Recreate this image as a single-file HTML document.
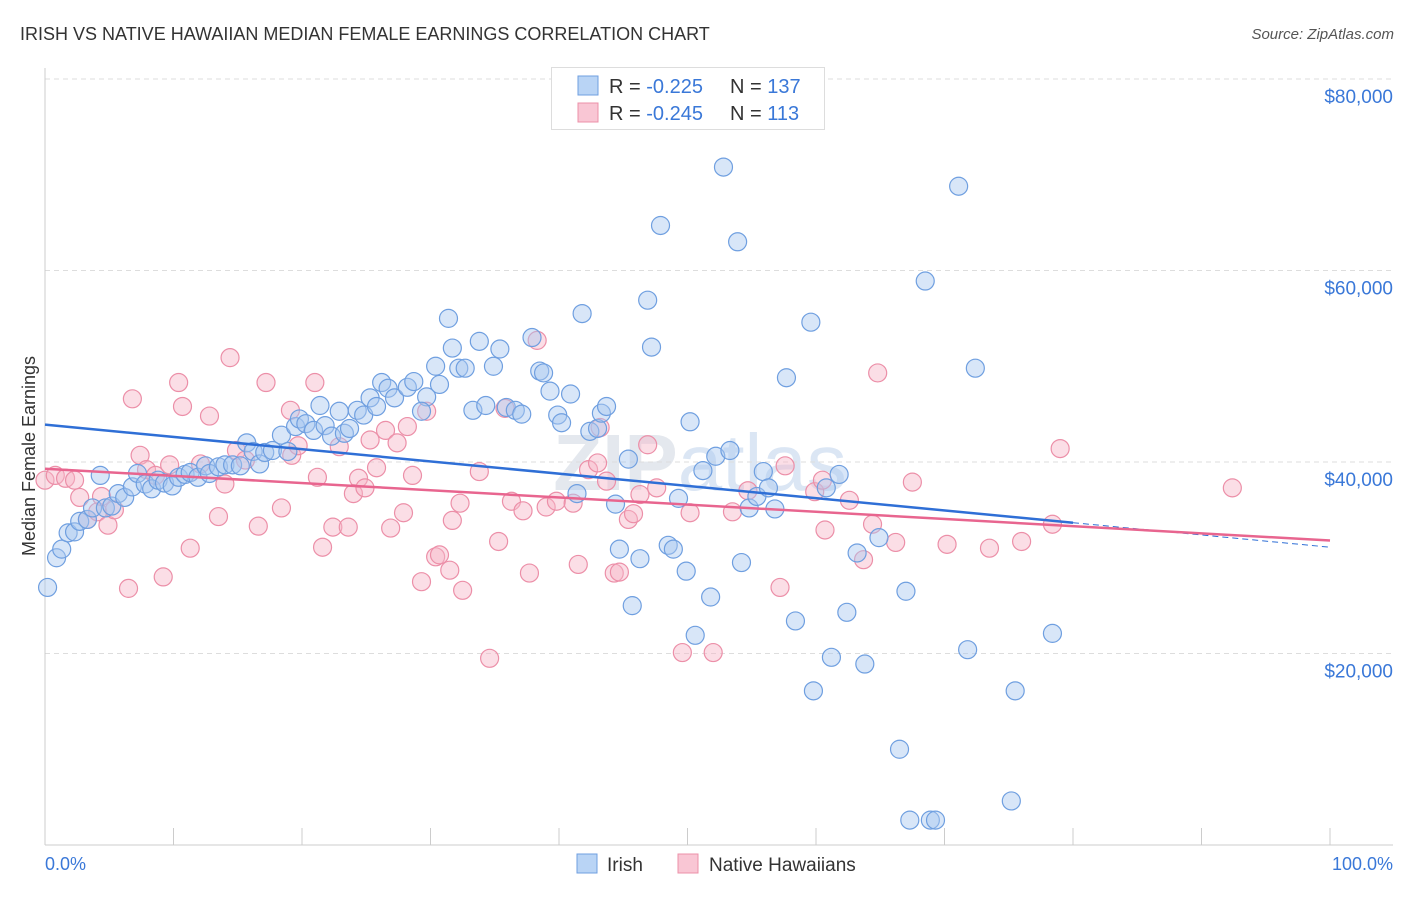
<!DOCTYPE html>
<html><head><meta charset="utf-8"><style>
body{margin:0;background:#fff;font-family:"Liberation Sans",sans-serif;}
svg text{font-family:"Liberation Sans",sans-serif;}
</style></head><body>
<svg id="chart" width="1406" height="892" xmlns="http://www.w3.org/2000/svg">
<text x="20" y="40" font-size="18" fill="#333">IRISH VS NATIVE HAWAIIAN MEDIAN FEMALE EARNINGS CORRELATION CHART</text>
<text x="1394" y="39" font-size="15" fill="#555" font-style="italic" text-anchor="end">Source: ZipAtlas.com</text>
<text x="700" y="490" font-size="80" fill="#e4e8ee" text-anchor="middle" font-weight="bold">ZIP<tspan font-weight="normal" fill="#dbe6f4">atlas</tspan></text>
<g id="grid"></g>
<g id="axes"></g>
<g id="pts"></g>
<g id="trends"></g>
<text x="35" y="456" font-size="18" fill="#333" text-anchor="middle" transform="rotate(-90 35 456)">Median Female Earnings</text>
<text x="45" y="870" font-size="18" fill="#3a78d8">0.0%</text>
<text x="1393" y="870" font-size="18" fill="#3a78d8" text-anchor="end">100.0%</text>
<g>
<rect x="551.5" y="67.5" width="273" height="62" fill="#fff" stroke="#ddd"/>
<rect x="578" y="76" width="20" height="19" fill="#b9d4f5" stroke="#6f9fe0"/>
<rect x="578" y="103" width="20" height="19" fill="#f9c6d4" stroke="#ec90a8"/>
<text x="609" y="93" font-size="20" fill="#333">R = <tspan fill="#3a78d8">-0.225</tspan></text>
<text x="730" y="93" font-size="20" fill="#333">N = <tspan fill="#3a78d8">137</tspan></text>
<text x="609" y="120" font-size="20" fill="#333">R = <tspan fill="#3a78d8">-0.245</tspan></text>
<text x="730" y="120" font-size="20" fill="#333">N = <tspan fill="#3a78d8"> 113</tspan></text>
</g>
<g>
<rect x="577" y="854" width="20" height="19" fill="#b9d4f5" stroke="#6f9fe0"/>
<text x="607" y="871" font-size="19" fill="#333">Irish</text>
<rect x="678" y="854" width="20" height="19" fill="#f9c6d4" stroke="#ec90a8"/>
<text x="709" y="871" font-size="19" fill="#333">Native Hawaiians</text>
</g>
</svg>
<script>
const yTicks=[20000,40000,60000,80000];
const yTickLabels=["$20,000","$40,000","$60,000","$80,000"];
const irishX=[0.2,0.9,1.3,1.8,2.3,2.7,3.3,3.7,4.3,4.7,5.2,5.7,6.2,6.8,7.2,7.8,8.3,8.8,9.3,9.9,10.4,10.9,11.3,11.9,12.5,12.8,13.5,14.0,14.6,15.2,15.7,16.2,16.7,17.1,17.7,18.4,18.9,19.5,19.8,20.3,20.9,21.4,21.8,22.3,22.9,23.3,23.7,24.3,24.8,25.3,25.8,26.2,26.7,27.2,28.2,28.7,29.7,29.3,30.4,30.7,31.4,31.7,32.2,32.7,33.3,33.8,34.3,34.9,35.4,35.9,36.6,37.1,37.9,38.5,38.8,39.3,39.9,40.2,40.9,41.4,41.8,42.4,43.0,43.3,43.7,44.4,44.7,45.4,45.7,46.3,46.9,47.2,47.9,48.5,48.9,49.3,49.9,50.2,50.6,51.2,51.8,52.2,52.8,53.3,53.9,54.2,54.8,55.4,55.9,56.3,56.8,57.7,58.4,59.6,59.8,60.8,61.2,61.8,62.4,63.2,63.8,64.9,66.5,67.0,67.3,68.5,68.9,69.3,71.1,71.8,72.4,75.2,75.5,78.4];
const irishY=[26.9,30.0,30.9,32.6,32.7,33.8,34.0,35.2,38.6,35.2,35.4,36.7,36.3,37.4,38.8,37.7,37.2,38.1,37.8,37.5,38.4,38.7,38.9,38.4,39.6,38.8,39.5,39.7,39.7,39.6,42.0,41.1,39.8,41.0,41.2,42.8,41.1,43.7,44.5,44.0,43.3,45.9,43.8,42.7,45.3,43.0,43.5,45.4,44.9,46.7,45.8,48.3,47.7,46.7,47.8,48.4,46.8,45.3,50.0,48.1,55.0,51.9,49.8,49.8,45.4,52.6,45.9,50.0,51.8,45.7,45.4,45.0,53.0,49.5,49.3,47.4,44.9,44.1,47.1,36.7,55.5,43.2,43.5,45.1,45.8,35.6,30.9,40.3,25.0,29.9,56.9,52.0,64.7,31.3,30.9,36.2,28.6,44.2,21.9,39.1,25.9,40.6,70.8,41.2,63.0,29.5,35.2,36.4,39.0,37.3,35.1,48.8,23.4,54.6,16.1,37.3,19.6,38.7,24.3,30.5,18.9,32.1,10.0,26.5,2.6,58.9,2.6,2.6,68.8,20.4,49.8,4.6,16.1,22.1];
const nhX=[0.0,0.8,1.6,2.3,2.7,3.3,4.1,4.4,4.9,5.4,6.5,6.8,7.4,7.9,8.6,9.2,9.7,10.4,10.7,11.3,12.1,12.8,13.5,14.0,14.4,14.9,15.6,16.6,17.2,18.4,19.1,19.2,19.7,21.0,21.2,21.6,22.4,22.9,23.6,24.0,24.4,24.9,25.3,25.8,26.5,26.9,27.4,27.9,28.2,28.6,29.3,29.7,30.4,30.7,31.5,31.7,32.3,32.5,33.8,34.6,35.3,35.8,36.3,37.2,37.7,38.3,39.0,39.8,41.1,41.5,42.3,43.0,43.2,43.7,44.3,44.7,45.4,45.8,46.3,46.9,47.6,49.6,50.2,52.0,53.5,54.7,57.2,57.6,59.9,60.5,60.7,62.6,63.7,64.4,64.8,66.2,67.5,70.2,73.5,76.0,78.4,79.0,92.4];
const nhY=[38.1,38.6,38.3,38.1,36.3,34.0,34.8,36.4,33.4,35.0,26.8,46.6,40.7,39.2,38.6,28.0,39.7,48.3,45.8,31.0,39.8,44.8,34.3,37.7,50.9,41.2,40.2,33.3,48.3,35.2,45.4,40.7,41.7,48.3,38.4,31.1,33.2,41.6,33.2,36.7,38.3,37.3,42.3,39.4,43.3,33.1,42.0,34.7,43.7,38.6,27.5,45.3,30.1,30.3,28.7,33.9,35.7,26.6,39.0,19.5,31.7,45.6,35.9,34.9,28.4,52.7,35.3,35.9,35.7,29.3,39.2,39.9,43.6,38.0,28.4,28.5,34.0,34.6,36.6,41.8,37.3,20.1,34.7,20.1,34.8,37.0,26.9,39.6,36.9,38.1,32.9,36.0,29.8,33.5,49.3,31.6,37.9,31.4,31.0,31.7,33.5,41.4,37.3];
const irishTrend=[43.9,-0.128];   // intercept ($k), slope per %
const nhTrend=[39.3,-0.075];
const NS="http://www.w3.org/2000/svg";
const X0=45,X1=1330,Y0=845,PX20K=191.5;
function sx(p){return X0+(X1-X0)*p/100;}
function sy(v){return Y0-v*PX20K/20000;}
function mk(tag,attrs,parent){const e=document.createElementNS(NS,tag);for(const k in attrs)e.setAttribute(k,attrs[k]);parent.appendChild(e);return e;}
const grid=document.getElementById('grid'),axes=document.getElementById('axes'),pts=document.getElementById('pts'),tr=document.getElementById('trends');
yTicks.forEach((t,i)=>{
  const l=mk('line',{x1:X0,x2:1393,y1:sy(t),y2:sy(t),stroke:'#ddd','stroke-dasharray':'5,4'},grid);
  
  
  const tx=mk('text',{x:1393,y:sy(t)+24,'font-size':19,fill:'#3a78d8','text-anchor':'end'},grid);
  tx.textContent=yTickLabels[i];
  
  
});
mk('line',{x1:X0,x2:X0,y1:68,y2:Y0,stroke:'#ccc'},axes);
mk('line',{x1:X0,x2:1393,y1:Y0,y2:Y0,stroke:'#ccc'},axes);
for(let i=0;i<=10;i++){const t=mk('line',{x1:sx(i*10),x2:sx(i*10),y1:828,y2:Y0,stroke:'#ccc'},axes);
  
  }
function dots(xs,ys,fill,stroke,name){xs.forEach((x,i)=>{
  const c=mk('circle',{cx:sx(x),cy:sy(ys[i]*1000),r:9,fill:fill,'fill-opacity':0.45,stroke:stroke,'stroke-width':1.2},pts);
  
  
});}
dots(nhX,nhY,'#f6b5c7','#ec8fa8','native-hawaiian-point');
dots(irishX,irishY,'#a8c8f0','#6f9fe0','irish-point');
function line(t,a,b,col,dash,name){
  const l=mk('line',{x1:sx(a),y1:sy((t[0]+t[1]*a)*1000),x2:sx(b),y2:sy((t[0]+t[1]*b)*1000),stroke:col,'stroke-width':dash?1:2.5},tr);
  if(dash)l.setAttribute('stroke-dasharray','6,4');
  
  
}
line(irishTrend,0,80,'#2f6fd6',false,'irish-trend-line');
line(irishTrend,80,100,'#2f6fd6',true,'irish-trend-extension');
line(nhTrend,0,100,'#e8658f',false,'native-hawaiian-trend-line');
</script>
</body></html>
